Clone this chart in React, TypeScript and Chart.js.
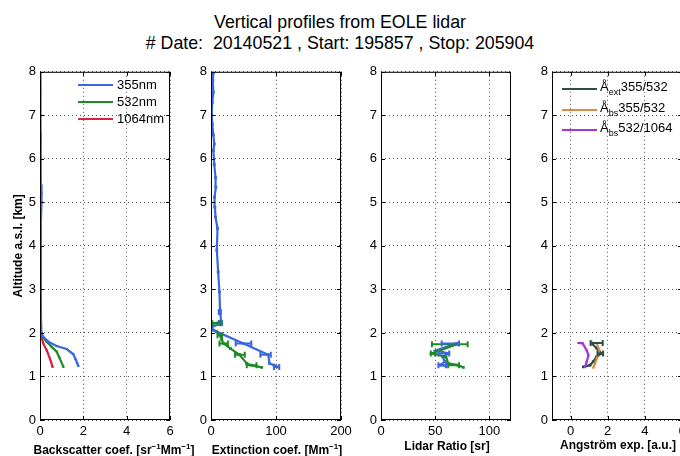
import React, { useEffect, useRef } from 'react';
import { Chart, registerables } from 'chart.js';
Chart.register(...registerables);

const FONT = "'Liberation Sans', Arial, Helvetica, sans-serif";
Chart.defaults.font.family = FONT;
Chart.defaults.color = '#000';

// ---------- tick labels ----------
const altTicks = [0, 1, 2, 3, 4, 5, 6, 7, 8];
const bscTicks = [0, 2, 4, 6];
const extTicks = [0, 100, 200];
const lrTicks = [0, 50, 100];
const aeTicks = [0, 2, 4, 6];

// ---------- colours ----------
const C355 = '#3a66e0';
const C532 = '#1f8a24';
const C1064 = '#dc1f45';
const CAEXT = '#2c4d48';
const CABS1 = '#d98c46';
const CABS2 = '#a435d8';

// ---------- backscatter [sr-1 Mm-1] ----------
const bsc355Alt = [1.24, 1.30, 1.40, 1.51, 1.63, 1.70, 1.80, 1.91, 2.00, 2.20, 2.60, 3.00, 3.50, 4.00, 4.50, 5.00, 5.20, 5.40];
const bsc355 = [1.77, 1.72, 1.64, 1.54, 1.23, 0.77, 0.38, 0.15, 0.07, 0.05, 0.04, 0.04, 0.04, 0.03, 0.04, 0.07, 0.08, 0.06];
const bsc532Alt = [1.22, 1.44, 1.57, 1.68, 1.80, 1.91, 2.00, 2.30, 2.80, 3.50, 4.50, 5.50, 6.50, 7.00, 7.50, 8.00];
const bsc532 = [1.08, 0.89, 0.77, 0.54, 0.31, 0.12, 0.06, 0.04, 0.03, 0.03, 0.03, 0.02, 0.02, 0.02, 0.02, 0.02];
const bsc1064Alt = [1.22, 1.41, 1.60, 1.76, 1.91, 2.00, 2.50, 3.00, 4.00, 5.00, 6.00, 6.60];
const bsc1064 = [0.58, 0.46, 0.31, 0.15, 0.07, 0.04, 0.02, 0.02, 0.02, 0.02, 0.02, 0.02];

// ---------- extinction [Mm-1] ----------
const ext355Alt = [1.22, 1.26, 1.30, 1.50, 1.76, 2.06, 2.13, 2.23, 2.48, 2.94, 3.40, 3.90, 4.40, 4.66, 4.89, 5.12, 5.35, 5.57, 5.87, 6.19, 6.34, 6.55, 6.80, 7.03, 7.30, 7.53, 7.80, 7.98];
const ext355 = [103, 97, 90, 88, 50, 4, 1, 16, 14, 13, 11, 9, 10, 7, 6, 5.5, 7.5, 7, 5, 3.6, 5, 3.6, 2, 1, 2, 3.6, 2.8, 3.6];
const ext355Lo = [97, null, null, 76, 38, null, null, 12, 12, null, null, null, null, null, null, null, null, null, null, null, null, null, null, null, null, null, null, null];
const ext355Hi = [105, null, null, 92, 62, null, null, 17, 15, null, null, null, null, null, null, null, null, null, null, null, null, null, null, null, null, null, null, null];
const ext532Alt = [1.21, 1.26, 1.30, 1.50, 1.64, 1.76, 1.85, 1.95, 2.03, 2.10, 2.22, 2.25];
const ext532 = [78, 62, 55, 44, 30, 19, 16.5, 13.8, 8.7, 1, 3.6, 13.8];
const ext532Lo = [null, 55, null, 37, null, 13, null, 10, null, null, 2, null];
const ext532Hi = [null, 70, null, 52, null, 26, null, 17, null, null, 14, null];

// ---------- lidar ratio [sr] ----------
const lr355Alt = [1.24, 1.26, 1.34, 1.45, 1.53, 1.60, 1.76];
const lr355 = [60, 54.5, 59, 57, 62, 51, 70];
const lr355Lo = [null, 53, null, null, 53, null, 56];
const lr355Hi = [null, 60, null, null, 63, null, 72];
const lr532Alt = [1.21, 1.26, 1.30, 1.45, 1.53, 1.74];
const lr532 = [76, 71, 62, 60, 47, 70];
const lr532Lo = [null, 62, null, null, 46, 47];
const lr532Hi = [null, 72, null, null, 50, 80];

// ---------- Angstrom exponents [a.u.] ----------
const aeExtAlt = [1.22, 1.26, 1.34, 1.45, 1.53, 1.65, 1.77];
const aeExt = [0.69, 1.05, 1.22, 1.40, 1.67, 1.40, 1.12];
const aeExtLo = [null, null, null, null, 1.45, null, 1.08];
const aeExtHi = [null, null, null, null, 1.75, null, 1.73];
const aeBsc355Alt = [1.20, 1.30, 1.45, 1.60, 1.77];
const aeBsc355 = [1.22, 1.32, 1.44, 1.55, 1.40];
const aeBsc532Alt = [1.22, 1.34, 1.49, 1.60, 1.76, 1.77];
const aeBsc532 = [0.78, 0.87, 0.96, 0.87, 0.65, 0.42];

type Series = {
  alt: number[]; val: number[]; color: string; pr: number;
  lo?: (number | null)[]; hi?: (number | null)[];
};
type Spec = {
  plotLeft: number; axisW: number; xmin: number; xmax: number; xTicks: number[];
  yTitle?: string; series: Series[];
};

const PLOT_W = 130;
const RIGHT_PAD = 45;
const CANVAS_TOP = 60;
const CANVAS_H = 396;

const framePlugin = {
  id: 'frame',
  afterDatasetsDraw(chart: any) {
    const { ctx, chartArea, scales } = chart;
    const { left, top, right, bottom } = chartArea;
    ctx.save();
    ctx.strokeStyle = '#000';
    ctx.lineWidth = 1;
    ctx.strokeRect(left + 0.5, top + 0.5, right - left - 1, bottom - top - 1);
    ctx.beginPath();
    scales.x.ticks.forEach((t: any) => {
      const px = Math.round(scales.x.getPixelForValue(t.value)) + 0.5;
      ctx.moveTo(px, bottom); ctx.lineTo(px, bottom - 4);
      ctx.moveTo(px, top); ctx.lineTo(px, top + 4);
    });
    scales.y.ticks.forEach((t: any) => {
      const py = Math.round(scales.y.getPixelForValue(t.value)) + 0.5;
      ctx.moveTo(left, py); ctx.lineTo(left + 4, py);
      ctx.moveTo(right, py); ctx.lineTo(right - 4, py);
    });
    ctx.stroke();
    ctx.restore();
  },
};

const errPlugin = {
  id: 'errbars',
  afterDatasetsDraw(chart: any) {
    const { ctx, chartArea, scales } = chart;
    const { x, y } = scales;
    ctx.save();
    ctx.beginPath();
    ctx.rect(chartArea.left, chartArea.top, chartArea.right - chartArea.left, chartArea.bottom - chartArea.top);
    ctx.clip();
    chart.data.datasets.forEach((ds: any) => {
      if (!ds.errLo) return;
      ctx.strokeStyle = ds.borderColor;
      ctx.lineWidth = 2;
      ds.errLo.forEach((lo: number | null, i: number) => {
        const hi = ds.errHi[i];
        if (lo == null || hi == null) return;
        const py = y.getPixelForValue(ds.data[i].y);
        const x1 = x.getPixelForValue(lo);
        const x2 = x.getPixelForValue(hi);
        ctx.beginPath();
        ctx.moveTo(x1, py); ctx.lineTo(x2, py);
        ctx.moveTo(x1, py - 3); ctx.lineTo(x1, py + 3);
        ctx.moveTo(x2, py - 3); ctx.lineTo(x2, py + 3);
        ctx.stroke();
      });
    });
    ctx.restore();
  },
};

function Panel({ spec }: { spec: Spec }) {
  const ref = useRef<HTMLCanvasElement>(null);
  const w = spec.axisW + PLOT_W + RIGHT_PAD;
  useEffect(() => {
    const grid = { color: '#555', lineWidth: 1, drawTicks: false };
    const border = { display: false, dash: [1, 3] };
    const chart = new Chart(ref.current as HTMLCanvasElement, {
      type: 'line',
      data: {
        datasets: spec.series.map((s) => ({
          data: s.alt.map((a, i) => ({ x: s.val[i], y: a })),
          borderColor: s.color,
          backgroundColor: s.color,
          borderWidth: 2.2,
          pointRadius: s.pr,
          pointStyle: 'rect',
          pointBorderWidth: 0,
          fill: false,
          errLo: s.lo,
          errHi: s.hi,
        })) as any,
      },
      options: {
        responsive: false,
        animation: false,
        layout: { padding: { top: 11, right: RIGHT_PAD, left: 0, bottom: 0 } },
        plugins: { legend: { display: false }, tooltip: { enabled: false } },
        scales: {
          x: {
            type: 'linear',
            min: spec.xmin,
            max: spec.xmax,
            afterBuildTicks: (s: any) => { s.ticks = spec.xTicks.map((v) => ({ value: v })); },
            afterFit: (s: any) => { s.height = 36; },
            grid, border,
            ticks: { font: { size: 13 }, padding: 4, maxRotation: 0, autoSkip: false, color: '#000' },
          },
          y: {
            type: 'linear',
            min: 0,
            max: 8,
            afterBuildTicks: (s: any) => { s.ticks = altTicks.map((v) => ({ value: v })); },
            afterFit: (s: any) => { s.width = spec.axisW; },
            grid, border,
            ticks: { font: { size: 13 }, padding: 4, autoSkip: false, color: '#000' },
            title: { display: !!spec.yTitle, text: spec.yTitle || '', font: { size: 12, weight: 'bold' }, padding: { top: 11, bottom: 0 }, color: '#000' },
          },
        },
      } as any,
      plugins: [errPlugin, framePlugin],
    });
    return () => chart.destroy();
  }, []);
  return (
    <canvas
      ref={ref}
      width={w}
      height={CANVAS_H}
      style={{ position: 'absolute', left: spec.plotLeft - spec.axisW, top: CANVAS_TOP, width: w, height: CANVAS_H }}
    />
  );
}

const specs: Spec[] = [
  {
    plotLeft: 40, axisW: 40, xmin: 0, xmax: 6, xTicks: bscTicks,
    yTitle: 'Altitude a.s.l. [km]',
    series: [
      { alt: bsc355Alt, val: bsc355, color: C355, pr: 1.5 },
      { alt: bsc532Alt, val: bsc532, color: C532, pr: 1.5 },
      { alt: bsc1064Alt, val: bsc1064, color: C1064, pr: 1.5 },
    ],
  },
  {
    plotLeft: 211, axisW: 30, xmin: 0, xmax: 200, xTicks: extTicks,
    series: [
      { alt: ext355Alt, val: ext355, color: C355, pr: 2, lo: ext355Lo, hi: ext355Hi },
      { alt: ext532Alt, val: ext532, color: C532, pr: 2, lo: ext532Lo, hi: ext532Hi },
    ],
  },
  {
    plotLeft: 381, axisW: 30, xmin: 0, xmax: 120, xTicks: lrTicks,
    series: [
      { alt: lr532Alt, val: lr532, color: C532, pr: 2, lo: lr532Lo, hi: lr532Hi },
      { alt: lr355Alt, val: lr355, color: C355, pr: 2, lo: lr355Lo, hi: lr355Hi },
    ],
  },
  {
    plotLeft: 552, axisW: 30, xmin: -1, xmax: 6, xTicks: aeTicks,
    series: [
      { alt: aeBsc532Alt, val: aeBsc532, color: CABS2, pr: 1.5 },
      { alt: aeBsc355Alt, val: aeBsc355, color: CABS1, pr: 1.5 },
      { alt: aeExtAlt, val: aeExt, color: CAEXT, pr: 2, lo: aeExtLo, hi: aeExtHi },
    ],
  },
];

const legend1 = [
  { label: '355nm', color: C355 },
  { label: '532nm', color: C532 },
  { label: '1064nm', color: C1064 },
];
const legend4 = [
  { base: '\u00C5', sub: 'ext', rest: '355/532', color: CAEXT },
  { base: '\u00C5', sub: 'bs', rest: '355/532', color: CABS1 },
  { base: '\u00C5', sub: 'bs', rest: '532/1064', color: CABS2 },
];

const supStyle: React.CSSProperties = { fontSize: 8, position: 'relative', top: -5 };
const xTitles: { cx: number; cy: number; node: React.ReactNode }[] = [
  { cx: 114, cy: 450, node: <>Backscatter coef. [sr<span style={supStyle}>&minus;1</span>Mm<span style={supStyle}>&minus;1</span>]</> },
  { cx: 277, cy: 450, node: <>Extinction coef. [Mm<span style={supStyle}>&minus;1</span>]</> },
  { cx: 447, cy: 446, node: <>Lidar Ratio [sr]</> },
  { cx: 618, cy: 445, node: <>Angstr&ouml;m exp. [a.u.]</> },
];

export default function App() {
  return (
    <div style={{ position: 'fixed', left: 0, top: 0, width: 680, height: 456, overflow: 'hidden', background: '#fff', fontFamily: FONT }}>
      <div style={{ position: 'absolute', left: 0, top: 12, width: 680, textAlign: 'center', fontSize: 17.8, lineHeight: '21px', whiteSpace: 'pre', color: '#000' }}>
        <div>Vertical profiles from EOLE lidar</div>
        <div># Date:  20140521 , Start: 195857 , Stop: 205904</div>
      </div>
      {specs.map((s, i) => <Panel key={i} spec={s} />)}
      {xTitles.map((t, i) => (
        <div key={'xt' + i} style={{ position: 'absolute', left: t.cx - 120, width: 240, top: t.cy - 7, textAlign: 'center', fontSize: 12, fontWeight: 'bold', lineHeight: '14px', whiteSpace: 'nowrap', color: '#000', zIndex: 2 }}>
          {t.node}
        </div>
      ))}
      {legend1.map((l, i) => (
        <React.Fragment key={'l1' + i}>
          <div style={{ position: 'absolute', left: 78, top: 85 + i * 17 - 1, width: 35, height: 2, background: l.color, zIndex: 2 }} />
          <div style={{ position: 'absolute', left: 117, top: 85 + i * 17 - 8, fontSize: 13, lineHeight: '16px', color: '#000', zIndex: 2 }}>{l.label}</div>
        </React.Fragment>
      ))}
      {legend4.map((l, i) => (
        <React.Fragment key={'l4' + i}>
          <div style={{ position: 'absolute', left: 562, top: 89 + i * 20.5 - 1, width: 35, height: 2, background: l.color, zIndex: 2 }} />
          <div style={{ position: 'absolute', left: 600, top: 89 + i * 20.5 - 10, fontSize: 13, lineHeight: '16px', color: '#000', whiteSpace: 'nowrap', zIndex: 2 }}>
            {l.base}<span style={{ fontSize: 9, position: 'relative', top: 4 }}>{l.sub}</span>{l.rest}
          </div>
        </React.Fragment>
      ))}
    </div>
  );
}
